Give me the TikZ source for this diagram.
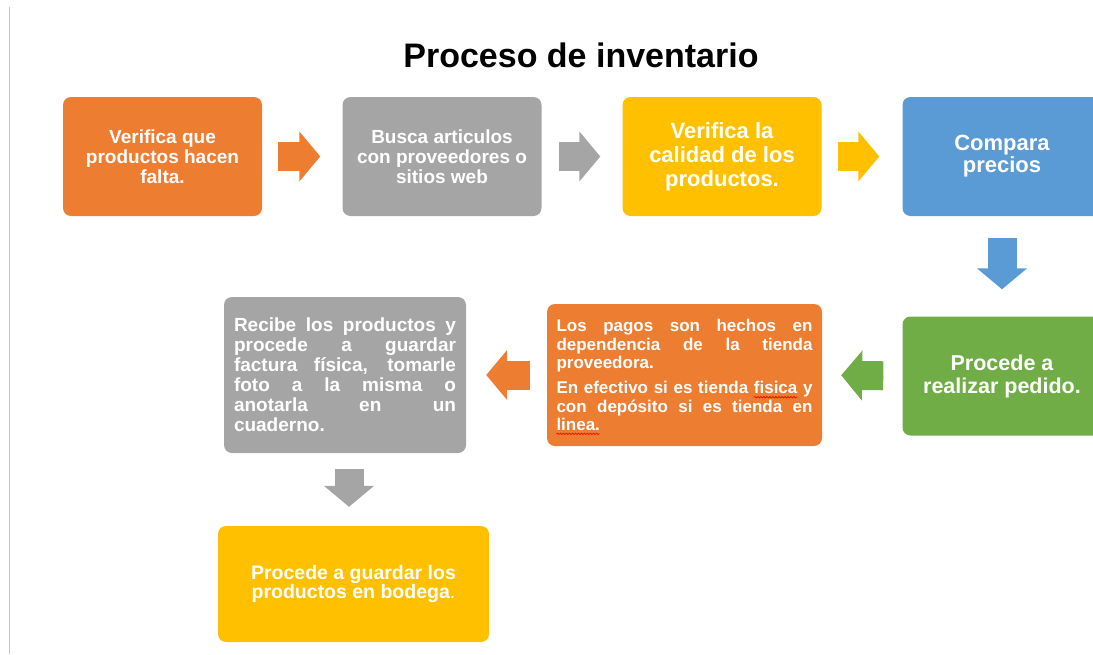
\documentclass[tikz,border=0pt]{standalone}
\usepackage{fontspec}
\setmainfont{Liberation Sans}
\usetikzlibrary{arrows.meta,decorations.pathmorphing}
\definecolor{naranja}{HTML}{ED7D31}
\definecolor{gris}{HTML}{A5A5A5}
\definecolor{amarillo}{HTML}{FFC000}
\definecolor{azul}{HTML}{5B9BD5}
\definecolor{verde}{HTML}{70AD47}
\tolerance=10000
\hyphenpenalty=10000
\hbadness=10000
\newlength\anchoonda
\newcommand\subrayado[1]{\leavevmode\setbox0\hbox{#1}\anchoonda=\wd0
    \rlap{\tikz[overlay, baseline=0pt]\draw[red, line width=0.6pt, sharp corners, decorate,
        decoration={snake, amplitude=0.8pt, segment length=3pt}] (0pt,-3.5pt) -- (\anchoonda,-3.5pt);}\box0\relax}

\begin{document}
\begin{tikzpicture}[x=1pt,y=-1pt,
        caja/.style={fill=#1, rounded corners=8pt, text=white, inner sep=0pt,
            minimum width=199pt, minimum height=119pt, align=center},
        flecha/.style={draw=#1, line width=29pt, -{Triangle[length=21pt,width=49pt]}}]
            \useasboundingbox (0,0) rectangle (1093,654);
            \clip (0,0) rectangle (1093,654);
            \draw[gray!45, line width=1.5pt] (9.5,7) -- (9.5,654);

            \node (titulo) at (581,55) {\fontsize{34}{38}\selectfont\bfseries Proceso de inventario};

            \node[caja=naranja, font=\fontsize{19}{20}\selectfont\bfseries] (falta) at (162.5,156.5)
                {Verifica que\\productos hacen\\falta.};
            \node[caja=gris, font=\fontsize{19}{20}\selectfont\bfseries] (busca) at (442,156.5)
                {Busca articulos\\con proveedores o\\sitios web};
            \node[caja=amarillo, font=\fontsize{22}{24}\selectfont\bfseries] (calidad) at (722,156.5)
                {Verifica la\\calidad de los\\productos.};
            \node[caja=azul, font=\fontsize{22}{22}\selectfont\bfseries] (compara) at (1002,156.5)
                {Compara\\precios};
            \node[caja=verde, font=\fontsize{21.5}{23}\selectfont\bfseries] (pedido) at (1002,376)
                {Procede a\\realizar pedido.};
            \node[caja=naranja, minimum width=275pt, minimum height=142pt, text width=256pt,
                align=justify, font=\fontsize{17}{18.3}\selectfont\bfseries] (pagos) at (684.5,375)
                {Los pagos son hechos en\linebreak dependencia de la tienda\linebreak proveedora.\\[7pt]
                 En efectivo si es tienda \subrayado{fisica} y\linebreak con depósito si es tienda en\linebreak \subrayado{linea.}};
            \node[caja=gris, minimum width=242pt, minimum height=156pt, text width=222pt,
                align=justify, font=\fontsize{19}{20}\selectfont\bfseries] (recibe) at (345,375)
                {Recibe los productos y\linebreak procede a guardar\linebreak factura física, tomarle\linebreak
                 foto a la misma o\linebreak anotarla en un\linebreak cuaderno.};
            \node[caja=amarillo, minimum width=271pt, minimum height=116pt,
                font=\fontsize{19.5}{19.5}\selectfont\bfseries] (bodega) at (353.5,584)
                {Procede a guardar los\\productos en bodega\textmd{.}};

            \draw[flecha=naranja, shorten <=16pt, shorten >=22pt] (falta.east) -- (busca.west);
            \draw[flecha=gris, shorten <=17pt, shorten >=22pt] (busca.east) -- (calidad.west);
            \draw[flecha=amarillo, shorten <=16pt, shorten >=23pt] (calidad.east) -- (compara.west);
            \draw[flecha=azul, shorten <=22pt, shorten >=27pt] (compara.south) -- (pedido.north);
            \draw[flecha=verde, shorten <=19pt, shorten >=19pt] (pedido.west) -- (pagos.east);
            \draw[flecha=naranja, shorten <=17pt, shorten >=20pt] (pagos.west) -- (recibe.east);
            \draw[flecha=gris, shorten <=16pt, shorten >=19pt] ([xshift=4pt]recibe.south) -- ([xshift=-4.5pt]bodega.north);
        \end{tikzpicture}
\end{document}
